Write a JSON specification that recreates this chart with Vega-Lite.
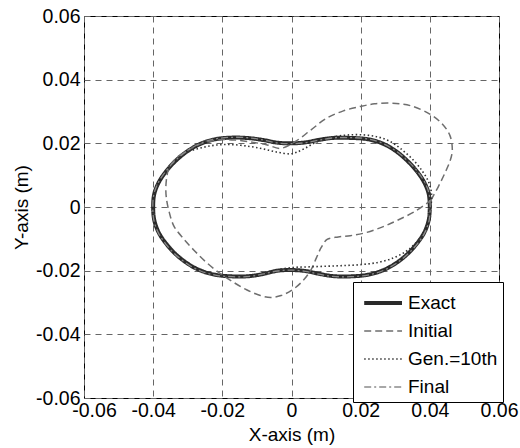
{
  "$schema": "https://vega.github.io/schema/vega-lite/v6.json",
  "width": 415,
  "height": 382,
  "autosize": "none",
  "padding": {"left": 84, "top": 16, "right": 21, "bottom": 50},
  "background": "white",
  "config": {
    "font": "Liberation Sans",
    "view": {"stroke": "black", "strokeWidth": 1},
    "axis": {
      "labelFont": "Liberation Sans",
      "titleFont": "Liberation Sans",
      "labelFontSize": 19.5,
      "titleFontSize": 19,
      "titleFontWeight": "normal",
      "labelColor": "black",
      "titleColor": "black",
      "grid": true,
      "gridColor": "#666666",
      "gridDash": [6, 5],
      "gridWidth": 1,
      "ticks": false,
      "tickSize": 0,
      "domain": false,
      "labelPadding": 4,
      "labelFlush": false
    },
    "legend": {
      "labelFont": "Liberation Sans",
      "labelFontSize": 19,
      "labelColor": "black"
    }
  },
  "data": {
    "values": [
      {"s": "Exact", "i": 0, "x": 0.0400, "y": 0.0000},
      {"s": "Exact", "i": 1, "x": 0.0397, "y": 0.0040},
      {"s": "Exact", "i": 2, "x": 0.0385, "y": 0.0075},
      {"s": "Exact", "i": 3, "x": 0.0364, "y": 0.0110},
      {"s": "Exact", "i": 4, "x": 0.0335, "y": 0.0145},
      {"s": "Exact", "i": 5, "x": 0.0300, "y": 0.0177},
      {"s": "Exact", "i": 6, "x": 0.0262, "y": 0.0200},
      {"s": "Exact", "i": 7, "x": 0.0220, "y": 0.0213},
      {"s": "Exact", "i": 8, "x": 0.0170, "y": 0.0217},
      {"s": "Exact", "i": 9, "x": 0.0120, "y": 0.0217},
      {"s": "Exact", "i": 10, "x": 0.0080, "y": 0.0211},
      {"s": "Exact", "i": 11, "x": 0.0040, "y": 0.0203},
      {"s": "Exact", "i": 12, "x": 0.0000, "y": 0.0200},
      {"s": "Exact", "i": 13, "x": -0.0040, "y": 0.0202},
      {"s": "Exact", "i": 14, "x": -0.0080, "y": 0.0210},
      {"s": "Exact", "i": 15, "x": -0.0120, "y": 0.0216},
      {"s": "Exact", "i": 16, "x": -0.0170, "y": 0.0218},
      {"s": "Exact", "i": 17, "x": -0.0220, "y": 0.0213},
      {"s": "Exact", "i": 18, "x": -0.0262, "y": 0.0199},
      {"s": "Exact", "i": 19, "x": -0.0300, "y": 0.0176},
      {"s": "Exact", "i": 20, "x": -0.0335, "y": 0.0145},
      {"s": "Exact", "i": 21, "x": -0.0364, "y": 0.0110},
      {"s": "Exact", "i": 22, "x": -0.0385, "y": 0.0075},
      {"s": "Exact", "i": 23, "x": -0.0397, "y": 0.0040},
      {"s": "Exact", "i": 24, "x": -0.0400, "y": 0.0000},
      {"s": "Exact", "i": 25, "x": -0.0397, "y": -0.0040},
      {"s": "Exact", "i": 26, "x": -0.0385, "y": -0.0078},
      {"s": "Exact", "i": 27, "x": -0.0364, "y": -0.0113},
      {"s": "Exact", "i": 28, "x": -0.0335, "y": -0.0148},
      {"s": "Exact", "i": 29, "x": -0.0300, "y": -0.0178},
      {"s": "Exact", "i": 30, "x": -0.0262, "y": -0.0200},
      {"s": "Exact", "i": 31, "x": -0.0220, "y": -0.0213},
      {"s": "Exact", "i": 32, "x": -0.0170, "y": -0.0218},
      {"s": "Exact", "i": 33, "x": -0.0120, "y": -0.0217},
      {"s": "Exact", "i": 34, "x": -0.0080, "y": -0.0210},
      {"s": "Exact", "i": 35, "x": -0.0040, "y": -0.0200},
      {"s": "Exact", "i": 36, "x": 0.0000, "y": -0.0198},
      {"s": "Exact", "i": 37, "x": 0.0040, "y": -0.0201},
      {"s": "Exact", "i": 38, "x": 0.0080, "y": -0.0210},
      {"s": "Exact", "i": 39, "x": 0.0120, "y": -0.0217},
      {"s": "Exact", "i": 40, "x": 0.0170, "y": -0.0218},
      {"s": "Exact", "i": 41, "x": 0.0220, "y": -0.0213},
      {"s": "Exact", "i": 42, "x": 0.0262, "y": -0.0200},
      {"s": "Exact", "i": 43, "x": 0.0300, "y": -0.0178},
      {"s": "Exact", "i": 44, "x": 0.0335, "y": -0.0148},
      {"s": "Exact", "i": 45, "x": 0.0364, "y": -0.0113},
      {"s": "Exact", "i": 46, "x": 0.0385, "y": -0.0078},
      {"s": "Exact", "i": 47, "x": 0.0397, "y": -0.0040},
      {"s": "Exact", "i": 48, "x": 0.0400, "y": 0.0000},

      {"s": "Initial", "i": 0, "x": 0.0403, "y": 0.0021},
      {"s": "Initial", "i": 1, "x": 0.0425, "y": 0.0065},
      {"s": "Initial", "i": 2, "x": 0.0445, "y": 0.0110},
      {"s": "Initial", "i": 3, "x": 0.0460, "y": 0.0150},
      {"s": "Initial", "i": 4, "x": 0.0465, "y": 0.0180},
      {"s": "Initial", "i": 5, "x": 0.0458, "y": 0.0225},
      {"s": "Initial", "i": 6, "x": 0.0435, "y": 0.0262},
      {"s": "Initial", "i": 7, "x": 0.0400, "y": 0.0292},
      {"s": "Initial", "i": 8, "x": 0.0345, "y": 0.0318},
      {"s": "Initial", "i": 9, "x": 0.0290, "y": 0.0326},
      {"s": "Initial", "i": 10, "x": 0.0240, "y": 0.0324},
      {"s": "Initial", "i": 11, "x": 0.0200, "y": 0.0316},
      {"s": "Initial", "i": 12, "x": 0.0150, "y": 0.0302},
      {"s": "Initial", "i": 13, "x": 0.0100, "y": 0.0278},
      {"s": "Initial", "i": 14, "x": 0.0055, "y": 0.0241},
      {"s": "Initial", "i": 15, "x": 0.0010, "y": 0.0205},
      {"s": "Initial", "i": 16, "x": -0.0032, "y": 0.0184},
      {"s": "Initial", "i": 17, "x": -0.0070, "y": 0.0195},
      {"s": "Initial", "i": 18, "x": -0.0110, "y": 0.0203},
      {"s": "Initial", "i": 19, "x": -0.0160, "y": 0.0210},
      {"s": "Initial", "i": 20, "x": -0.0210, "y": 0.0211},
      {"s": "Initial", "i": 21, "x": -0.0260, "y": 0.0199},
      {"s": "Initial", "i": 22, "x": -0.0300, "y": 0.0178},
      {"s": "Initial", "i": 23, "x": -0.0335, "y": 0.0152},
      {"s": "Initial", "i": 24, "x": -0.0355, "y": 0.0120},
      {"s": "Initial", "i": 25, "x": -0.0363, "y": 0.0070},
      {"s": "Initial", "i": 26, "x": -0.0362, "y": 0.0030},
      {"s": "Initial", "i": 27, "x": -0.0355, "y": -0.0010},
      {"s": "Initial", "i": 28, "x": -0.0340, "y": -0.0060},
      {"s": "Initial", "i": 29, "x": -0.0312, "y": -0.0100},
      {"s": "Initial", "i": 30, "x": -0.0280, "y": -0.0138},
      {"s": "Initial", "i": 31, "x": -0.0245, "y": -0.0175},
      {"s": "Initial", "i": 32, "x": -0.0205, "y": -0.0210},
      {"s": "Initial", "i": 33, "x": -0.0170, "y": -0.0235},
      {"s": "Initial", "i": 34, "x": -0.0130, "y": -0.0260},
      {"s": "Initial", "i": 35, "x": -0.0090, "y": -0.0278},
      {"s": "Initial", "i": 36, "x": -0.0060, "y": -0.0284},
      {"s": "Initial", "i": 37, "x": -0.0030, "y": -0.0278},
      {"s": "Initial", "i": 38, "x": 0.0000, "y": -0.0262},
      {"s": "Initial", "i": 39, "x": 0.0030, "y": -0.0235},
      {"s": "Initial", "i": 40, "x": 0.0055, "y": -0.0200},
      {"s": "Initial", "i": 41, "x": 0.0072, "y": -0.0160},
      {"s": "Initial", "i": 42, "x": 0.0086, "y": -0.0127},
      {"s": "Initial", "i": 43, "x": 0.0103, "y": -0.0102},
      {"s": "Initial", "i": 44, "x": 0.0135, "y": -0.0094},
      {"s": "Initial", "i": 45, "x": 0.0170, "y": -0.0090},
      {"s": "Initial", "i": 46, "x": 0.0210, "y": -0.0082},
      {"s": "Initial", "i": 47, "x": 0.0260, "y": -0.0064},
      {"s": "Initial", "i": 48, "x": 0.0306, "y": -0.0042},
      {"s": "Initial", "i": 49, "x": 0.0360, "y": -0.0012},
      {"s": "Initial", "i": 50, "x": 0.0403, "y": 0.0021},

      {"s": "Gen.=10th", "i": 0, "x": 0.0403, "y": 0.0000},
      {"s": "Gen.=10th", "i": 1, "x": 0.0405, "y": 0.0042},
      {"s": "Gen.=10th", "i": 2, "x": 0.0396, "y": 0.0080},
      {"s": "Gen.=10th", "i": 3, "x": 0.0380, "y": 0.0110},
      {"s": "Gen.=10th", "i": 4, "x": 0.0356, "y": 0.0143},
      {"s": "Gen.=10th", "i": 5, "x": 0.0325, "y": 0.0175},
      {"s": "Gen.=10th", "i": 6, "x": 0.0290, "y": 0.0203},
      {"s": "Gen.=10th", "i": 7, "x": 0.0250, "y": 0.0220},
      {"s": "Gen.=10th", "i": 8, "x": 0.0200, "y": 0.0227},
      {"s": "Gen.=10th", "i": 9, "x": 0.0150, "y": 0.0225},
      {"s": "Gen.=10th", "i": 10, "x": 0.0103, "y": 0.0216},
      {"s": "Gen.=10th", "i": 11, "x": 0.0070, "y": 0.0203},
      {"s": "Gen.=10th", "i": 12, "x": 0.0040, "y": 0.0185},
      {"s": "Gen.=10th", "i": 13, "x": 0.0015, "y": 0.0172},
      {"s": "Gen.=10th", "i": 14, "x": -0.0005, "y": 0.0167},
      {"s": "Gen.=10th", "i": 15, "x": -0.0040, "y": 0.0172},
      {"s": "Gen.=10th", "i": 16, "x": -0.0080, "y": 0.0182},
      {"s": "Gen.=10th", "i": 17, "x": -0.0120, "y": 0.0190},
      {"s": "Gen.=10th", "i": 18, "x": -0.0170, "y": 0.0196},
      {"s": "Gen.=10th", "i": 19, "x": -0.0215, "y": 0.0195},
      {"s": "Gen.=10th", "i": 20, "x": -0.0260, "y": 0.0186},
      {"s": "Gen.=10th", "i": 21, "x": -0.0302, "y": 0.0172},
      {"s": "Gen.=10th", "i": 22, "x": -0.0335, "y": 0.0145},
      {"s": "Gen.=10th", "i": 23, "x": -0.0364, "y": 0.0110},
      {"s": "Gen.=10th", "i": 24, "x": -0.0385, "y": 0.0075},
      {"s": "Gen.=10th", "i": 25, "x": -0.0397, "y": 0.0040},
      {"s": "Gen.=10th", "i": 26, "x": -0.0400, "y": 0.0000},
      {"s": "Gen.=10th", "i": 27, "x": -0.0397, "y": -0.0040},
      {"s": "Gen.=10th", "i": 28, "x": -0.0385, "y": -0.0078},
      {"s": "Gen.=10th", "i": 29, "x": -0.0364, "y": -0.0113},
      {"s": "Gen.=10th", "i": 30, "x": -0.0335, "y": -0.0148},
      {"s": "Gen.=10th", "i": 31, "x": -0.0300, "y": -0.0178},
      {"s": "Gen.=10th", "i": 32, "x": -0.0262, "y": -0.0200},
      {"s": "Gen.=10th", "i": 33, "x": -0.0220, "y": -0.0213},
      {"s": "Gen.=10th", "i": 34, "x": -0.0170, "y": -0.0217},
      {"s": "Gen.=10th", "i": 35, "x": -0.0120, "y": -0.0215},
      {"s": "Gen.=10th", "i": 36, "x": -0.0080, "y": -0.0207},
      {"s": "Gen.=10th", "i": 37, "x": -0.0040, "y": -0.0197},
      {"s": "Gen.=10th", "i": 38, "x": 0.0005, "y": -0.0190},
      {"s": "Gen.=10th", "i": 39, "x": 0.0050, "y": -0.0188},
      {"s": "Gen.=10th", "i": 40, "x": 0.0103, "y": -0.0186},
      {"s": "Gen.=10th", "i": 41, "x": 0.0150, "y": -0.0184},
      {"s": "Gen.=10th", "i": 42, "x": 0.0200, "y": -0.0181},
      {"s": "Gen.=10th", "i": 43, "x": 0.0250, "y": -0.0174},
      {"s": "Gen.=10th", "i": 44, "x": 0.0295, "y": -0.0160},
      {"s": "Gen.=10th", "i": 45, "x": 0.0330, "y": -0.0140},
      {"s": "Gen.=10th", "i": 46, "x": 0.0355, "y": -0.0118},
      {"s": "Gen.=10th", "i": 47, "x": 0.0378, "y": -0.0088},
      {"s": "Gen.=10th", "i": 48, "x": 0.0393, "y": -0.0050},
      {"s": "Gen.=10th", "i": 49, "x": 0.0403, "y": 0.0000},

      {"s": "Final", "i": 0, "x": 0.0401, "y": 0.0000},
      {"s": "Final", "i": 1, "x": 0.0398, "y": 0.0041},
      {"s": "Final", "i": 2, "x": 0.0386, "y": 0.0076},
      {"s": "Final", "i": 3, "x": 0.0364, "y": 0.0112},
      {"s": "Final", "i": 4, "x": 0.0334, "y": 0.0147},
      {"s": "Final", "i": 5, "x": 0.0299, "y": 0.0178},
      {"s": "Final", "i": 6, "x": 0.0261, "y": 0.0201},
      {"s": "Final", "i": 7, "x": 0.0220, "y": 0.0214},
      {"s": "Final", "i": 8, "x": 0.0170, "y": 0.0218},
      {"s": "Final", "i": 9, "x": 0.0120, "y": 0.0217},
      {"s": "Final", "i": 10, "x": 0.0080, "y": 0.0210},
      {"s": "Final", "i": 11, "x": 0.0040, "y": 0.0202},
      {"s": "Final", "i": 12, "x": 0.0000, "y": 0.0199},
      {"s": "Final", "i": 13, "x": -0.0040, "y": 0.0201},
      {"s": "Final", "i": 14, "x": -0.0080, "y": 0.0210},
      {"s": "Final", "i": 15, "x": -0.0120, "y": 0.0217},
      {"s": "Final", "i": 16, "x": -0.0170, "y": 0.0219},
      {"s": "Final", "i": 17, "x": -0.0220, "y": 0.0214},
      {"s": "Final", "i": 18, "x": -0.0263, "y": 0.0200},
      {"s": "Final", "i": 19, "x": -0.0301, "y": 0.0177},
      {"s": "Final", "i": 20, "x": -0.0336, "y": 0.0146},
      {"s": "Final", "i": 21, "x": -0.0365, "y": 0.0110},
      {"s": "Final", "i": 22, "x": -0.0386, "y": 0.0075},
      {"s": "Final", "i": 23, "x": -0.0398, "y": 0.0040},
      {"s": "Final", "i": 24, "x": -0.0401, "y": 0.0000},
      {"s": "Final", "i": 25, "x": -0.0398, "y": -0.0041},
      {"s": "Final", "i": 26, "x": -0.0386, "y": -0.0079},
      {"s": "Final", "i": 27, "x": -0.0365, "y": -0.0114},
      {"s": "Final", "i": 28, "x": -0.0336, "y": -0.0149},
      {"s": "Final", "i": 29, "x": -0.0301, "y": -0.0179},
      {"s": "Final", "i": 30, "x": -0.0263, "y": -0.0201},
      {"s": "Final", "i": 31, "x": -0.0220, "y": -0.0214},
      {"s": "Final", "i": 32, "x": -0.0170, "y": -0.0219},
      {"s": "Final", "i": 33, "x": -0.0120, "y": -0.0218},
      {"s": "Final", "i": 34, "x": -0.0080, "y": -0.0210},
      {"s": "Final", "i": 35, "x": -0.0040, "y": -0.0201},
      {"s": "Final", "i": 36, "x": 0.0000, "y": -0.0198},
      {"s": "Final", "i": 37, "x": 0.0040, "y": -0.0202},
      {"s": "Final", "i": 38, "x": 0.0080, "y": -0.0211},
      {"s": "Final", "i": 39, "x": 0.0120, "y": -0.0218},
      {"s": "Final", "i": 40, "x": 0.0170, "y": -0.0219},
      {"s": "Final", "i": 41, "x": 0.0220, "y": -0.0214},
      {"s": "Final", "i": 42, "x": 0.0262, "y": -0.0201},
      {"s": "Final", "i": 43, "x": 0.0300, "y": -0.0179},
      {"s": "Final", "i": 44, "x": 0.0335, "y": -0.0149},
      {"s": "Final", "i": 45, "x": 0.0365, "y": -0.0114},
      {"s": "Final", "i": 46, "x": 0.0386, "y": -0.0079},
      {"s": "Final", "i": 47, "x": 0.0398, "y": -0.0041},
      {"s": "Final", "i": 48, "x": 0.0401, "y": 0.0000}
    ]
  },
  "mark": {"type": "line", "interpolate": "catmull-rom", "clip": true},
  "encoding": {
    "x": {
      "field": "x", "type": "quantitative",
      "scale": {"domain": [-0.06, 0.06], "nice": false, "zero": false},
      "axis": {
        "title": "X-axis (m)",
        "values": [-0.06, -0.04, -0.02, 0, 0.02, 0.04, 0.06],
        "labelExpr": "'' + datum.value",
        "labelPadding": 3,
        "labelOffset": {"condition": {"test": "datum.value < -0.05", "value": 10}, "value": 0},
        "titlePadding": 6
      }
    },
    "y": {
      "field": "y", "type": "quantitative",
      "scale": {"domain": [-0.06, 0.06], "nice": false, "zero": false},
      "axis": {
        "title": "Y-axis (m)",
        "values": [-0.06, -0.04, -0.02, 0, 0.02, 0.04, 0.06],
        "labelExpr": "'' + datum.value",
        "labelPadding": 4,
        "titlePadding": 4
      }
    },
    "order": {"field": "i", "type": "quantitative"},
    "color": {
      "field": "s", "type": "nominal", "title": null,
      "scale": {
        "domain": ["Exact", "Initial", "Gen.=10th", "Final"],
        "range": ["#2a2a2a", "#6e6e6e", "#333333", "#8a8a8a"]
      },
      "legend": {
        "orient": "none",
        "legendX": 269,
        "legendY": 266,
        "strokeColor": "black",
        "fillColor": "white",
        "padding": 5,
        "cornerRadius": 0,
        "symbolType": "M-0.7,0H2",
        "symbolSize": 784,
        "labelOffset": 18,
        "rowPadding": 3,
        "labelLimit": 200
      }
    },
    "strokeDash": {
      "field": "s", "type": "nominal", "title": null,
      "scale": {
        "domain": ["Exact", "Initial", "Gen.=10th", "Final"],
        "range": [[1, 0], [7, 4], [1.5, 2.5], [7, 3, 2, 3]]
      }
    },
    "strokeWidth": {
      "field": "s", "type": "ordinal", "title": null,
      "scale": {
        "type": "ordinal",
        "domain": ["Exact", "Initial", "Gen.=10th", "Final"],
        "range": [4, 1.5, 1.6, 1.3]
      }
    }
  }
}
